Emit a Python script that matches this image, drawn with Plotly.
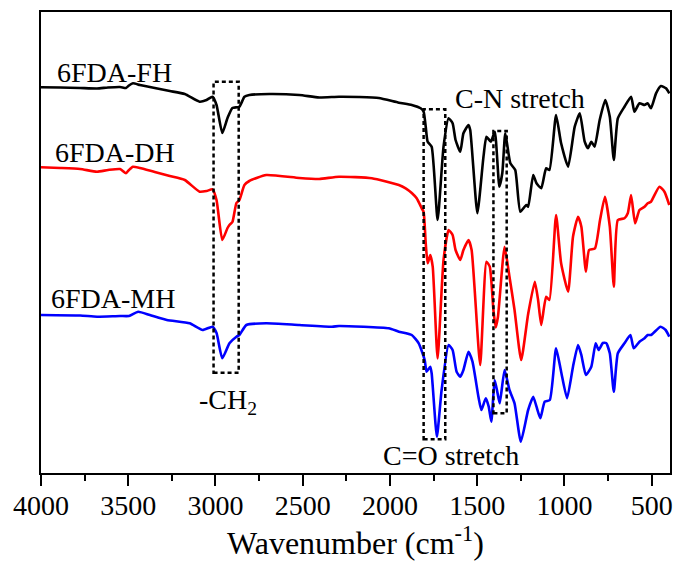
import plotly.graph_objects as go

# ---------------- data (wavenumber cm^-1, transmittance a.u.) ----------------
fh_wn = [4000, 3890, 3776, 3679, 3616, 3547, 3513, 3496, 3473, 3433, 3348, 3262, 3176, 3091,
         3051, 3017, 2994, 2961, 2931, 2903, 2863, 2834, 2806, 2691, 2520, 2406, 2292, 2178,
         2064, 1949, 1875, 1824, 1807, 1795, 1784, 1761, 1727, 1693, 1664, 1641, 1624, 1597,
         1579, 1550, 1540, 1499, 1464, 1447, 1422, 1399, 1373, 1356, 1339, 1310, 1282, 1253,
         1219, 1208, 1179, 1160, 1133, 1105, 1086, 1048, 1019, 979, 941, 912, 884, 865, 846,
         827, 798, 766, 740, 717, 694, 656, 618, 599, 570, 541, 523, 504, 475, 447, 418, 399]
fh_t = [385.7, 385.5, 385, 384.5, 385.5, 386, 385, 387.5, 389.7, 388, 385, 382, 379, 371.3,
        373, 376.3, 368, 340, 355, 365, 366.3, 376.3, 378, 379, 378, 375.5, 376.3, 376,
        375, 370.3, 368, 364.7, 361.3, 346.3, 331.3, 326.3, 253, 326.3, 354.7, 349.7, 333, 321.3,
        339.7, 348, 343, 259.7, 316.3, 336.3, 331.3, 341.3, 286.3, 300, 339.7, 309.7, 303, 261.3,
        268, 266.3, 298, 289.7, 284.7, 304.7, 303, 358, 329.7, 306.3, 346.3, 359.7, 331.3, 324.7, 331.3,
        326.3, 353, 373, 356.3, 313, 354.7, 366.3, 376.3, 361.3, 369.7, 368, 369.7, 364.7, 379.7, 387, 384.7, 379.7]

dh_wn = [4000, 3890, 3776, 3679, 3616, 3547, 3513, 3496, 3473, 3433, 3348, 3262, 3176, 3091,
         3051, 3017, 2994, 2961, 2931, 2920, 2903, 2880, 2863, 2834, 2806, 2709, 2520, 2406, 2292,
         2104, 1949, 1910, 1875, 1847, 1818, 1807, 1795, 1784, 1769, 1755, 1727, 1693, 1664, 1641,
         1624, 1597, 1579, 1550, 1532, 1483, 1447, 1428, 1407, 1394, 1381, 1343, 1315, 1286, 1248,
         1208, 1170, 1151, 1133, 1105, 1086, 1048, 1019, 979, 951, 922, 903, 877, 859, 825, 796,
         768, 740, 717, 694, 656, 637, 618, 595, 570, 541, 523, 504, 456, 427, 399]
dh_t = [305.7, 305, 304, 301.3, 303, 304, 299.7, 303, 306.3, 305, 301, 297, 293, 281.3,
        282, 283.7, 273, 233, 245, 248, 251, 270, 273, 288, 292, 298, 295, 294, 296.3,
        294.7, 288, 284.7, 280, 274.7, 264.7, 261, 229.7, 209.7, 218, 206.3, 114.7, 213, 243, 238,
        223, 213, 223, 233, 223, 108, 211.3, 206.3, 163, 145.5, 156.3, 226.3, 196.3, 163, 113,
        159, 191.3, 173, 148, 176.3, 173, 258, 209.7, 181.3, 236.3, 256.3, 246.3, 201.3, 223, 224.7, 253,
        276.3, 246.3, 186.3, 253, 254.7, 259.7, 278, 249.7, 263, 266.3, 269.7, 271.3, 286.3, 281.3, 268]

mh_wn = [4000, 3776, 3679, 3547, 3496, 3443, 3376, 3279, 3148, 3074, 3017, 2994, 2961, 2920,
         2880, 2863, 2823, 2709, 2520, 2332, 2292, 2007, 1949, 1875, 1835, 1801, 1790, 1769, 1761,
         1731, 1704, 1664, 1641, 1618, 1597, 1579, 1550, 1527, 1493, 1476, 1451, 1434, 1419, 1400,
         1385, 1371, 1343, 1315, 1286, 1250, 1208, 1179, 1160, 1138, 1113, 1084, 1048, 1019, 985,
         951, 922, 903, 877, 846, 821, 804, 780, 761, 740, 717, 694, 656, 622, 603, 570, 541, 523,
         504, 449, 420, 399]
mh_t = [158, 157.5, 156.3, 157, 157, 161.3, 158, 153, 149.7, 143, 146.3, 140, 114.7, 129.7,
        136.3, 138, 148, 149.7, 148, 146.3, 147, 144.7, 141.3, 138, 129.7, 113, 101.3, 106.3, 99.7,
        36.3, 83, 128, 123, 101.3, 96.3, 103, 121.3, 111.3, 76.3, 63, 74.7, 66.3, 51.3, 93,
        81.3, 69.7, 103, 83, 69.7, 31.3, 63, 76.3, 66.3, 54.7, 71.3, 73, 124.7, 101.3, 74.7,
        106.3, 128, 118, 98, 106.3, 129.7, 123, 130, 130, 119.7, 81.3, 119.7, 129.7, 138, 124.7, 131.3, 134.7, 138,
        138, 146.3, 143, 136.3]

series_names = ["6FDA-FH", "6FDA-DH", "6FDA-MH"]
series_colors = ["#000000", "#ff0000", "#0000ff"]
x_ticks = [4000, 3500, 3000, 2500, 2000, 1500, 1000, 500]

FONT = "Liberation Serif, Times New Roman, serif"
X_RANGE = [4000, 395]

fig = go.Figure()
for name, wn, t, col in zip(series_names, [fh_wn, dh_wn, mh_wn], [fh_t, dh_t, mh_t], series_colors):
    fig.add_trace(go.Scatter(x=wn, y=t, mode="lines", name=name,
                             line=dict(color=col, width=2.6, shape="spline", smoothing=0.5),
                             showlegend=False, hoverinfo="skip"))

# dashed highlight boxes
boxes = [(3011, 2867, 100.3, 391.3), (1807, 1683, 33.7, 363.7), (1407, 1331, 59.7, 342)]
for x0, x1, y0, y1 in boxes:
    fig.add_shape(type="rect", xref="x", yref="y", x0=x0, x1=x1, y0=y0, y1=y1,
                  line=dict(color="black", width=2.5, dash="4px,3px"))

# labels
labels = [
    ("6FDA-FH", 3576, 401),
    ("6FDA-DH", 3576, 321),
    ("6FDA-MH", 3590, 175),
    ("-CH<sub>2</sub>", 2930, 72),
    ("C-N stretch", 1253, 375),
    ("C=O stretch", 1653, 18),
]
for txt, x, y in labels:
    fig.add_annotation(x=x, y=y, xref="x", yref="y", text=txt, showarrow=False,
                       font=dict(family=FONT, size=28, color="black"))

fig.update_layout(
    width=681, height=563,
    margin=dict(l=40.7, r=8.5, t=12, b=90),
    paper_bgcolor="white", plot_bgcolor="white",
    font=dict(family=FONT, color="black"),
    xaxis=dict(
        range=X_RANGE, tickvals=x_ticks, ticktext=[str(v) for v in x_ticks],
        ticks="outside", ticklen=6, tickwidth=2, tickcolor="black",
        showline=True, linewidth=2, linecolor="black", mirror=True,
        showgrid=False, zeroline=False,
        tickfont=dict(family=FONT, size=28, color="black"),
        title=dict(text="Wavenumber (cm<sup>-1</sup>)", font=dict(family=FONT, size=32, color="black"), standoff=9),
    ),
    # overlay axis carrying the longer major ticks and the minor ticks
    xaxis2=dict(
        range=X_RANGE, overlaying="x", anchor="y", side="bottom",
        tickvals=x_ticks, showticklabels=False,
        ticks="outside", ticklen=12, tickwidth=2, tickcolor="black",
        minor=dict(dtick=250, tick0=4000, ticks="outside", ticklen=7, tickwidth=2, tickcolor="black"),
        showline=False, showgrid=False, zeroline=False,
    ),
    yaxis=dict(
        range=[0, 461], showticklabels=False, ticks="",
        showline=True, linewidth=2, linecolor="black", mirror=True,
        showgrid=False, zeroline=False,
    ),
)
# invisible helper trace so the overlay axis is drawn
fig.add_trace(go.Scatter(x=[x_ticks[0]], y=[None], xaxis="x2", yaxis="y", mode="lines",
                         showlegend=False, hoverinfo="skip"))

fig.write_html("out.html", config={"displayModeBar": False},
               post_script="document.body.style.margin='0';")
